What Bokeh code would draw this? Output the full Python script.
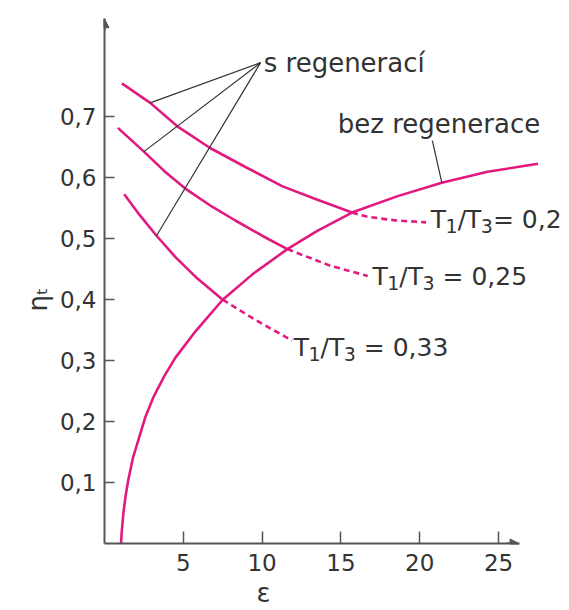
from bokeh.plotting import figure
from bokeh.models import Range1d, FixedTicker, Arrow, NormalHead, Title
from bokeh.embed import file_html
from bokeh.resources import INLINE
from bokeh.core.properties import value

# ---- data ----
eps_bez = [1.05, 1.1, 1.2, 1.35, 1.5, 1.8, 2.2, 2.6, 3.1, 3.8, 4.5, 5.8, 7.5, 9.4, 11.6, 13.5, 15.7, 18.6, 21.4, 24.3, 27.5]
eta_bez = [0.0, 0.022, 0.05, 0.08, 0.103, 0.14, 0.174, 0.208, 0.240, 0.275, 0.305, 0.349, 0.400, 0.442, 0.483, 0.513, 0.543, 0.570, 0.592, 0.610, 0.623]

eps_r20 = [1.1, 2.9, 4.6, 6.7, 9.0, 11.3, 13.3, 15.7]
eta_r20 = [0.755, 0.723, 0.685, 0.649, 0.617, 0.586, 0.566, 0.543]
eps_r20_dash = [15.7, 16.7, 18.5, 20.4]
eta_r20_dash = [0.543, 0.536, 0.530, 0.527]

eps_r25 = [0.85, 2.5, 3.8, 5.2, 6.8, 8.3, 10.0, 11.6]
eta_r25 = [0.682, 0.643, 0.611, 0.581, 0.553, 0.530, 0.505, 0.483]
eps_r25_dash = [11.6, 14.3, 16.7]
eta_r25_dash = [0.483, 0.456, 0.439]

eps_r33 = [1.25, 2.2, 3.3, 4.5, 5.8, 7.5]
eta_r33 = [0.573, 0.540, 0.505, 0.470, 0.437, 0.400]
eps_r33_dash = [7.5, 9.5, 11.9]
eta_r33_dash = [0.400, 0.368, 0.333]

x_ticks = [5, 10, 15, 20, 25]
y_ticks = [0.1, 0.2, 0.3, 0.4, 0.5, 0.6, 0.7]
y_tick_labels = ["0,1", "0,2", "0,3", "0,4", "0,5", "0,6", "0,7"]

# curve labels
curve_texts = ["s regenerací", "bez regenerace"]
curve_eps = [10.1, 14.8]
curve_eta = [0.788, 0.689]

# T1/T3 labels
ratio_values = ["0,2", "0,25", "0,33"]
ratio_gap = [False, True, True]     # space before "="
ratio_eps = [20.7, 17.0, 12.0]
ratio_eta = [0.531, 0.438, 0.321]

# leader lines (s regenerací hub -> curves, bez regenerace label -> curve)
lead_x0 = [9.9, 9.9, 9.9, 20.8]
lead_y0 = [0.789, 0.789, 0.789, 0.661]
lead_x1 = [2.9, 2.5, 3.3, 21.4]
lead_y1 = [0.723, 0.643, 0.505, 0.592]

X_MAX, Y_MAX = 29.5, 0.891
X_AXIS_END, Y_AXIS_END = 26.3, 0.861

MAG = "#e2197f"
INK = "#333333"
AX = "#555555"
FONT = "DejaVu Sans"
FS_MAIN = 25
FS_SUB = 19

p = figure(width=569, height=610, output_backend="svg", toolbar_location=None,
           x_range=Range1d(0, X_MAX), y_range=Range1d(0, Y_MAX),
           min_border_left=104, min_border_right=0, min_border_top=0, min_border_bottom=66)
p.outline_line_color = None
p.grid.visible = False

for ax in (p.xaxis[0], p.yaxis[0]):
    ax.axis_line_color = AX
    ax.axis_line_width = 2
    ax.major_tick_line_color = AX
    ax.major_tick_line_width = 1.5
    ax.major_tick_out = 0
    ax.minor_tick_in = 0
    ax.minor_tick_out = 0
    ax.major_label_text_font = FONT
    ax.major_label_text_font_size = "23px"
    ax.major_label_text_color = INK

p.xaxis.ticker = FixedTicker(ticks=x_ticks)
p.xaxis.bounds = (0, X_AXIS_END)
p.xaxis.major_tick_in = 12
p.xaxis.major_label_standoff = 10

p.yaxis.ticker = FixedTicker(ticks=y_ticks)
p.yaxis.major_label_overrides = {t: s for t, s in zip(y_ticks, y_tick_labels)}
p.yaxis.bounds = (0, Y_AXIS_END)
p.yaxis.major_tick_in = 10
p.yaxis.major_label_standoff = 8

# axis titles
p.add_layout(Title(text="ε", align="left", offset=152, standoff=5, text_font=FONT,
                   text_font_size="26px", text_font_style="normal", text_color=INK), "below")
p.add_layout(Title(text="ηₜ", align="left", offset=232, standoff=8, text_font=FONT,
                   text_font_size="26px", text_font_style="normal", text_color=INK), "left")

# axis arrow heads
p.add_layout(Arrow(end=NormalHead(size=9, fill_color=AX, line_color=AX),
                   x_start=0, y_start=Y_AXIS_END - 0.02, x_end=0, y_end=Y_AXIS_END,
                   line_color=AX, line_width=2))
p.add_layout(Arrow(end=NormalHead(size=9, fill_color=AX, line_color=AX),
                   x_start=X_AXIS_END - 0.8, y_start=0, x_end=X_AXIS_END, y_end=0,
                   line_color=AX, line_width=2))

# curves
for xs, ys in ((eps_bez, eta_bez), (eps_r20, eta_r20), (eps_r25, eta_r25), (eps_r33, eta_r33)):
    p.line(xs, ys, line_color=MAG, line_width=2.6)
for xs, ys in ((eps_r20_dash, eta_r20_dash), (eps_r25_dash, eta_r25_dash), (eps_r33_dash, eta_r33_dash)):
    p.line(xs, ys, line_color=MAG, line_width=2.6, line_dash="6 4")

# leader lines
p.segment(lead_x0, lead_y0, lead_x1, lead_y1, line_color=INK, line_width=1.2)

# curve labels
p.text(curve_eps, curve_eta, text=curve_texts, text_font=value(FONT), text_font_size="26px",
       text_color=INK, text_align="left", text_baseline="alphabetic")

# T1/T3 labels built of main pieces and lowered subscript digits
w_T = 0.611 * FS_MAIN
w_slash = 0.337 * FS_MAIN
w_sub = 0.636 * FS_SUB
w_space = 0.318 * FS_MAIN
main_x, main_y, main_t, main_off = [], [], [], []
sub_x, sub_y, sub_t, sub_off = [], [], [], []
for e, h, v, gap in zip(ratio_eps, ratio_eta, ratio_values, ratio_gap):
    o1 = w_T - 0.5
    o2 = o1 + w_sub
    o3 = o2 + w_slash + w_T - 0.5
    o4 = o3 + w_sub + (w_space if gap else 0)
    main_x += [e, e, e]; main_y += [h, h, h]
    main_t += ["T", "/T", "= " + v]; main_off += [0, o2, o4]
    sub_x += [e, e]; sub_y += [h, h]
    sub_t += ["1", "3"]; sub_off += [o1, o3]

p.text(main_x, main_y, text=main_t, x_offset=main_off, text_font=value(FONT),
       text_font_size=f"{FS_MAIN}px", text_color=INK, text_align="left", text_baseline="alphabetic")
p.text(sub_x, sub_y, text=sub_t, x_offset=sub_off, y_offset=6, text_font=value(FONT),
       text_font_size=f"{FS_SUB}px", text_color=INK, text_align="left", text_baseline="alphabetic")

open("out.html", "w").write(file_html(p, INLINE))
